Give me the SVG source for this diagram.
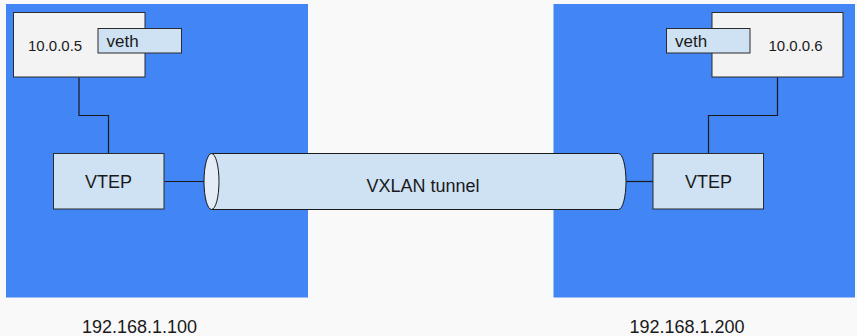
<svg xmlns="http://www.w3.org/2000/svg" width="857" height="336" viewBox="0 0 857 336">
<style>
.bg{fill:#f9f9f9}
.host{fill:#4285f4}
.vm{fill:#f3f3f3;stroke:#2b2b2b;stroke-width:1}
.box{fill:#cfe2f3;stroke:#2b2b2b;stroke-width:1}
.cyl{fill:#cfe2f3;stroke:#1a1a1a;stroke-width:1}
.cap{fill:#e4edf7;stroke:#1a1a1a;stroke-width:1}
.wire{fill:none;stroke:#1a1a1a;stroke-width:1.2}
text{font-family:"Liberation Sans",Arial,sans-serif;fill:#1a1a1a}
.s15{font-size:15px}
.s17{font-size:17px}
.s18{font-size:18px}
</style>
<rect class="bg" x="0" y="0" width="857" height="336"/>
<g id="host-left">
<rect class="host" x="6" y="4" width="302" height="293.5"/>
<text class="s18" x="139.5" y="332.5" text-anchor="middle">192.168.1.100</text>
</g>
<g id="host-right">
<rect class="host" x="553.5" y="4" width="301.5" height="293.5"/>
<text class="s18" x="687" y="332.5" text-anchor="middle">192.168.1.200</text>
</g>
<g id="connectors">
<polyline class="wire" points="79,77.5 79,115.5 108.5,115.5 108.5,153.5"/>
<polyline class="wire" points="777.5,77.5 777.5,115.5 708.5,115.5 708.5,153.5"/>
<line class="wire" x1="164.5" y1="181.5" x2="204" y2="181.5"/>
<line class="wire" x1="626" y1="181.5" x2="653" y2="181.5"/>
</g>
<g id="vm-left">
<rect class="vm" x="13.5" y="12.5" width="131.5" height="64.5"/>
<text class="s15" x="28" y="50.5">10.0.0.5</text>
</g>
<g id="veth-left">
<rect class="box" x="98" y="28.5" width="83.5" height="24.5"/>
<text class="s17" x="106.5" y="46.5">veth</text>
</g>
<g id="vm-right">
<rect class="vm" x="712" y="12.5" width="131" height="64.5"/>
<text class="s15" x="768.5" y="50.5">10.0.0.6</text>
</g>
<g id="veth-right">
<rect class="box" x="666.5" y="28.5" width="83.5" height="24.5"/>
<text class="s17" x="675" y="46.5">veth</text>
</g>
<g id="vtep-left">
<rect class="box" x="53.5" y="153.5" width="110.5" height="55.5"/>
<text class="s18" x="108.5" y="187.5" text-anchor="middle">VTEP</text>
</g>
<g id="vtep-right">
<rect class="box" x="653" y="153.5" width="110.5" height="55.5"/>
<text class="s18" x="708.5" y="187.5" text-anchor="middle">VTEP</text>
</g>
<g id="tunnel">
<path class="cyl" d="M211.5,153.5 L618.5,153.5 A7.5,28 0 0 1 618.5,209.5 L211.5,209.5 Z"/>
<ellipse class="cap" cx="211.5" cy="181.5" rx="7.5" ry="28"/>
<text class="s18" x="423" y="192" text-anchor="middle">VXLAN tunnel</text>
</g>
</svg>
